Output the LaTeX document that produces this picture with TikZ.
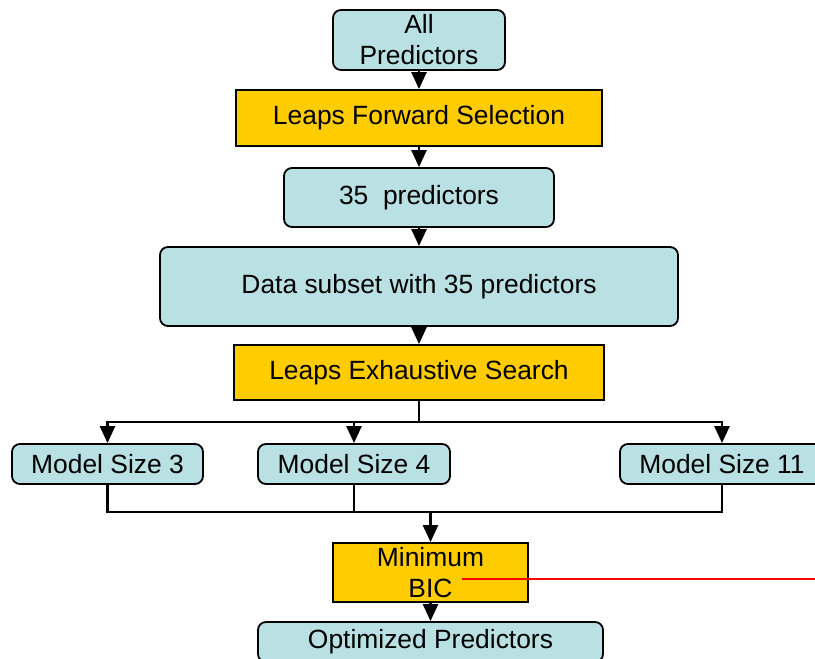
\documentclass[tikz,border=0pt]{standalone}
\usepackage{fontspec}
\setmainfont{Liberation Sans}
\usetikzlibrary{arrows.meta,positioning}
\definecolor{boxcyan}{RGB}{185,224,227}
\definecolor{boxgold}{RGB}{255,204,0}
\tikzset{databox/.style={
    % The shape:
    rectangle, rounded corners=4pt,
    % The size:
    minimum height=20pt,
    inner sep=0pt,
    % The border:
    line width=0.9pt,
    draw=black,
    % The filling:
    fill=boxcyan,
    align=center
    },
    stepbox/.style={
    rectangle,
    minimum height=28pt,
    inner sep=0pt,
    line width=0.9pt,
    draw=black,
    fill=boxgold,
    align=center
    },
    flow/.style={line width=1.2pt, -{Triangle[width=7.5pt,length=8.5pt]}},
    joinline/.style={line width=1.2pt},
}

\begin{document}
\begin{tikzpicture}[x=0.5pt, y=-0.5pt, font=\fontsize{13.2}{15.5}\selectfont]
    \useasboundingbox (0,0) rectangle (815,659);
    % main chain
    \node (all)        [databox, minimum width=86pt, minimum height=30pt] at (419,40) {All\\Predictors};
    \node (forward)    [stepbox, minimum width=183pt, below=9.1pt of all]             {Leaps Forward Selection};
    \node (subset35)   [databox, minimum width=135pt, minimum height=29.5pt, below=10.1pt of forward] {35\ \ predictors};
    \node (data)       [databox, minimum width=259pt, minimum height=39.5pt, below=9.1pt of subset35] {Data subset with 35 predictors};
    \node (exhaustive) [stepbox, minimum width=185pt, minimum height=27.5pt, below=8.6pt of data] {Leaps Exhaustive Search};
    % model sizes
    \node (size3)  [databox, minimum width=95.5pt] at (107.5,464) {Model Size 3};
    \node (size4)  [databox, minimum width=96pt]   at (354,464)   {Model Size 4};
    \node (size11) [databox, minimum width=102pt]  at (722,464)   {Model Size 11};
    \node (bic)    [stepbox, minimum width=97.5pt, minimum height=29.5pt] at (430.5,572.5) {Minimum\\BIC};
    \node (best)   [databox, minimum width=172.5pt, below=9.1pt of bic] {Optimized Predictors};

    \draw[flow] (all) -- (forward);
    \draw[flow] (forward) -- (subset35);
    \draw[flow] (subset35) -- (data);
    \draw[flow] (data) -- (exhaustive);

    \draw[joinline] (exhaustive.south) -- ++(0,21) coordinate (split);
    \draw[flow] (split) -| (size3.north);
    \draw[flow] (split) -| (size4.north);
    \draw[flow] (split) -| (size11.north);

    \path (bic.north) ++(0,-30) coordinate (merge);
    \draw[joinline] (size3.south) |- (merge);
    \draw[joinline] (size4.south) |- (merge);
    \draw[joinline] (size11.south) |- (merge);
    \draw[flow] (merge) -- (bic);
    \draw[flow] (bic) -- (best);

    \coordinate (redstart) at ([shift={(31.5,6.5)}]bic.center);
    \coordinate (redend) at (830,579);
    \draw[red, line width=0.8pt] (redstart) -- (redend);
\end{tikzpicture}
\end{document}
